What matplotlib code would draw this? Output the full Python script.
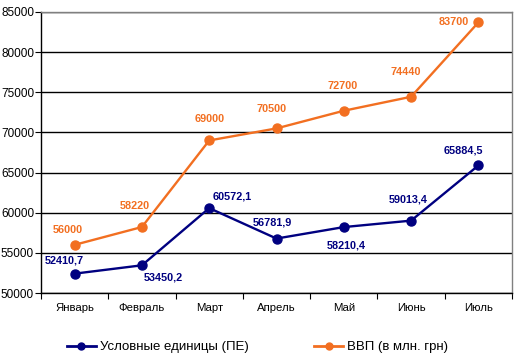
import matplotlib
matplotlib.use("Agg")
import matplotlib.pyplot as plt
from matplotlib.lines import Line2D

plt.rcParams['font.family'] = ['Liberation Sans', 'DejaVu Sans']

months = ["Январь", "Февраль", "Март", "Апрель", "Май", "Июнь", "Июль"]
pe_values = [52410.7, 53450.2, 60572.1, 56781.9, 58210.4, 59013.4, 65884.5]
pe_labels = ["52410,7", "53450,2", "60572,1", "56781,9", "58210,4", "59013,4", "65884,5"]
gdp_values = [56000, 58220, 69000, 70500, 72700, 74440, 83700]
gdp_labels = ["56000", "58220", "69000", "70500", "72700", "74440", "83700"]
yticks = [50000, 55000, 60000, 65000, 70000, 75000, 80000, 85000]
series_names = ["Условные единицы (ПЕ)", "ВВП (в млн. грн)"]

navy = "#000080"
orange = "#F26F21"

W, H = 515, 359
fig = plt.figure(figsize=(W/100, H/100), dpi=100)
ax = fig.add_axes([41/W, 1-293/H, (512-41)/W, (293-12)/H])

x = list(range(len(months)))
ax.plot(x, pe_values, color=navy, lw=1.7, marker='o', ms=6.5, zorder=3)
ax.plot(x, gdp_values, color=orange, lw=1.7, marker='o', ms=6.5, zorder=3)

ax.set_xlim(-0.5, 6.5)
ax.set_ylim(50000, 85000)
ax.set_yticks(yticks)
ax.set_yticklabels([str(v) for v in yticks], fontsize=8.5)
ax.set_xticks(x)
ax.set_xticklabels(months, fontsize=8.2)
ax.set_xticks([i + 0.5 for i in range(-1, 7)], minor=True)
ax.tick_params(axis='x', which='major', length=0, pad=7)
ax.tick_params(axis='x', which='minor', length=4, width=0.8, color='black', direction='out')
ax.tick_params(axis='y', length=4, width=0.8, direction='out', pad=1)
for v in yticks:
    ax.axhline(v, color='black', lw=1.0, zorder=1)
for s in ['top', 'right']:
    ax.spines[s].set_color('#808080')
    ax.spines[s].set_linewidth(1)
for s in ['left', 'bottom']:
    ax.spines[s].set_color('black')
    ax.spines[s].set_linewidth(1)

# offsets in pixels (dx, dy) from the point
pe_off = [(-10, 13), (21, -12), (23, 12), (-4, 16), (2, -18), (-3, 21), (-15, 15)]
gdp_off = [(-7, 15), (-7, 21), (0, 21), (-5, 19), (-1, 25), (-5, 25), (-25, 0)]
for i in x:
    ax.annotate(pe_labels[i], (i, pe_values[i]), xytext=pe_off[i], textcoords='offset pixels',
                ha='center', va='center', fontsize=7.8, fontweight='bold', color=navy)
    ax.annotate(gdp_labels[i], (i, gdp_values[i]), xytext=gdp_off[i], textcoords='offset pixels',
                ha='center', va='center', fontsize=7.8, fontweight='bold', color=orange)

handles = [Line2D([], [], color=navy, lw=2, marker='o', ms=5),
           Line2D([], [], color=orange, lw=2, marker='o', ms=5)]
fig.legend(handles, series_names, loc='center', bbox_to_anchor=(0.5, 1-347/H), ncol=2,
           frameon=False, fontsize=9.5, handlelength=2.2, handletextpad=0.3, columnspacing=5)

fig.savefig("out.png", dpi=100)
